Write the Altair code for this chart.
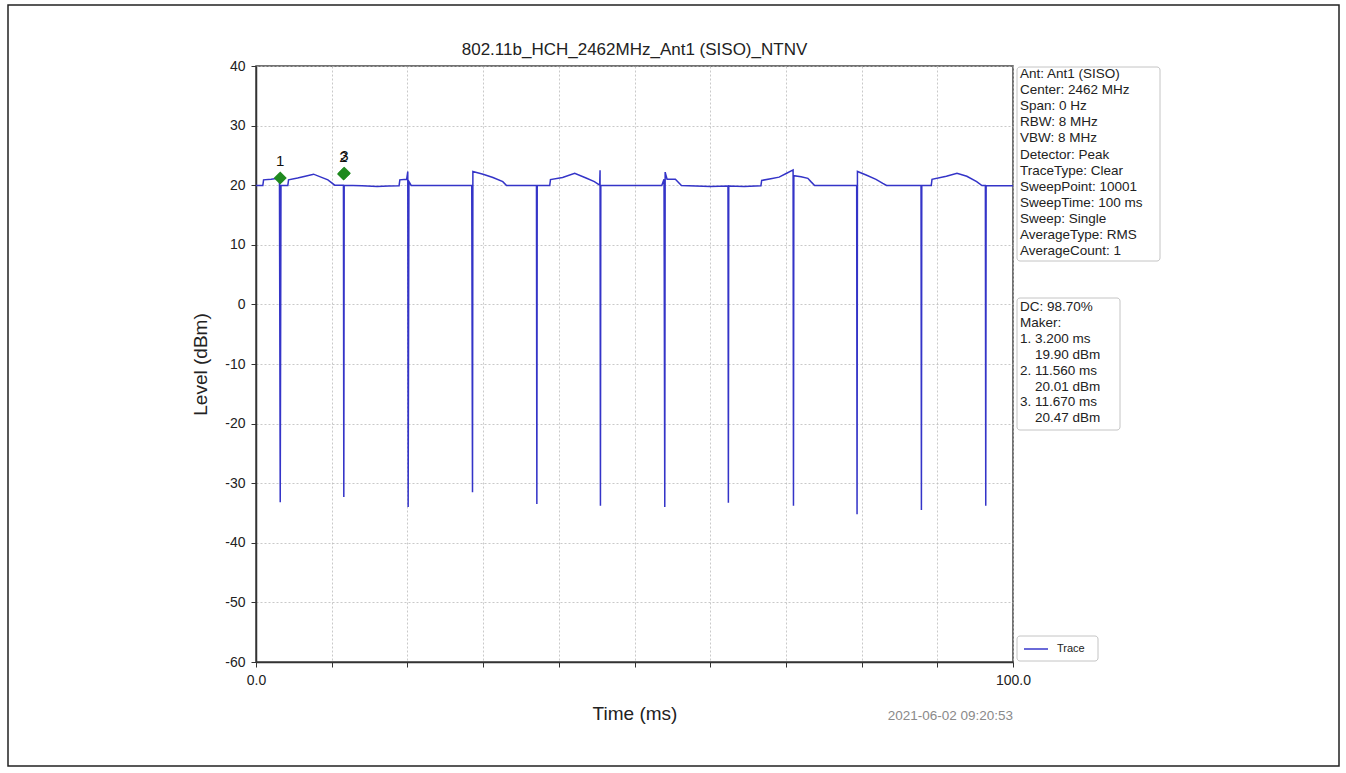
import altair as alt
import pandas as pd

# ---------------- data ----------------
chart_title = "802.11b_HCH_2462MHz_Ant1 (SISO)_NTNV"
x_title = "Time (ms)"
y_title = "Level (dBm)"
timestamp = "2021-06-02 09:20:53"

# trace breakpoints (time ms, level dBm)
trace_points = [
    (0.0, 19.95), (0.9, 19.95), (1.0, 20.9), (2.0, 21.0), (3.1, 21.2),
    (3.2, -33.2), (3.3, 19.95), (4.2, 19.95), (4.3, 20.9), (5.5, 21.2),
    (6.5, 21.5), (7.6, 21.85), (8.5, 21.4), (9.5, 20.9), (10.4, 20.0),
    (11.55, 20.0), (11.6, -32.3), (11.65, 20.0), (14.0, 19.9), (16.0, 19.8),
    (17.5, 19.85), (18.9, 19.9), (19.0, 20.9), (19.9, 21.0), (20.05, 22.3),
    (20.1, -34.0), (20.2, 20.6), (20.5, 19.95), (28.5, 19.95), (28.6, -31.5),
    (28.65, 22.3), (30.0, 21.85), (31.3, 21.3), (32.6, 20.6), (33.1, 19.95),
    (37.05, 19.95), (37.1, -33.5), (37.15, 19.95), (38.8, 19.95), (38.9, 20.95),
    (40.5, 21.3), (42.1, 22.0), (43.6, 21.2), (44.7, 20.6), (45.4, 20.0),
    (45.45, 22.5), (45.5, -33.8), (45.55, 19.95), (53.6, 19.95), (53.9, 21.0),
    (54.0, -34.0), (54.05, 22.2), (54.3, 21.0), (55.4, 21.0), (56.2, 19.95),
    (60.0, 19.8), (62.35, 19.85), (62.4, -33.3), (62.45, 19.85), (64.5, 19.8),
    (66.7, 19.9), (66.8, 20.8), (68.0, 21.1), (69.1, 21.35), (70.1, 22.0),
    (70.95, 22.57), (71.0, -33.8), (71.05, 21.6), (72.0, 21.4), (72.9, 21.15),
    (73.3, 20.6), (73.8, 19.95), (79.35, 19.95), (79.4, -35.2), (79.45, 22.3),
    (80.6, 21.7), (81.9, 20.98), (82.8, 20.3), (83.3, 19.95), (87.85, 19.95),
    (87.9, -34.5), (87.95, 19.95), (89.2, 19.95), (89.3, 20.98), (91.2, 21.5),
    (92.6, 22.0), (93.9, 21.5), (95.2, 20.6), (95.9, 19.95), (96.35, 19.95),
    (96.4, -33.8), (96.45, 19.95), (100.0, 19.9),
]

marker_ids = ["1", "2", "3"]
marker_time = [3.2, 11.56, 11.67]
marker_level = [21.2, 21.9, 22.0]

x_ticks = [0, 10, 20, 30, 40, 50, 60, 70, 80, 90, 100]
y_ticks = [-60, -50, -40, -30, -20, -10, 0, 10, 20, 30, 40]

info_lines = [
    "Ant: Ant1 (SISO)", "Center: 2462 MHz", "Span: 0 Hz", "RBW: 8 MHz",
    "VBW: 8 MHz", "Detector: Peak", "TraceType: Clear", "SweepPoint: 10001",
    "SweepTime: 100 ms", "Sweep: Single", "AverageType: RMS", "AverageCount: 1",
]
# (text, indented?)
dc_lines = [
    ("DC: 98.70%", False), ("Maker:", False),
    ("1. 3.200 ms", False), ("19.90 dBm", True),
    ("2. 11.560 ms", False), ("20.01 dBm", True),
    ("3. 11.670 ms", False), ("20.47 dBm", True),
]
legend_label = "Trace"

# ---------------- layout ----------------
W, H = 757, 596
PL, PT = 256, 66
FONT = "Liberation Sans"
TRACE_COLOR = "#3434c8"

trace_df = pd.DataFrame(
    [{"i": i, "t": t, "v": v} for i, (t, v) in enumerate(trace_points)]
)
marker_df = pd.DataFrame({"id": marker_ids, "t": marker_time, "v": marker_level})
one = alt.Data(values=[{"a": 1}])

xscale = alt.Scale(domain=[0, 100], nice=False, zero=False)
yscale = alt.Scale(domain=[-60, 40], nice=False, zero=False)

x_axis = alt.Axis(
    values=x_ticks,
    labelExpr="datum.value == 0 || datum.value == 100 ? format(datum.value, '.1f') : ''",
    labelFontSize=14, labelFont=FONT, labelColor="#222", labelPadding=6,
    labelOverlap=False, labelFlush=False,
    tickSize=5, tickColor="#333", tickWidth=1,
    domainColor="#333", domainWidth=1.5,
    grid=True, gridDash=[2, 2], gridColor="#bbbbbb", gridWidth=0.8,
    title=x_title, titleFont=FONT, titleFontSize=19, titleFontWeight="normal",
    titleColor="#222", titleX=W / 2, titleY=51, titleBaseline="middle",
    titleAlign="center",
)
y_axis = alt.Axis(
    values=y_ticks,
    labelExpr="'' + datum.value",
    labelFontSize=14, labelFont=FONT, labelColor="#222", labelPadding=6,
    labelOverlap=False, labelFlush=False,
    tickSize=5, tickColor="#333", tickWidth=1,
    domainColor="#333", domainWidth=1.5,
    grid=True, gridDash=[2, 2], gridColor="#bbbbbb", gridWidth=0.8,
    title=y_title, titleFont=FONT, titleFontSize=19, titleFontWeight="normal",
    titleColor="#222", titleX=-56, titleY=H / 2, titleAngle=270,
    titleBaseline="middle", titleAlign="center",
)

border = alt.Chart(one).mark_rect(fillOpacity=0, stroke="#222", strokeWidth=1.5).encode(
    x=alt.value(8 - PL), x2=alt.value(1339 - PL),
    y=alt.value(5 - PT), y2=alt.value(766 - PT),
)

trace = alt.Chart(trace_df).mark_line(color=TRACE_COLOR, strokeWidth=1.5).encode(
    x=alt.X("t:Q", scale=xscale, axis=x_axis),
    y=alt.Y("v:Q", scale=yscale, axis=y_axis),
    order="i:Q",
)

markers = alt.Chart(marker_df).mark_point(
    shape="diamond", filled=True, color="#1f8a1f", opacity=1, size=170
).encode(x=alt.X("t:Q", scale=xscale), y=alt.Y("v:Q", scale=yscale))

marker_labels = alt.Chart(marker_df).mark_text(
    dy=-17, fontSize=15, font=FONT, color="#111"
).encode(x=alt.X("t:Q", scale=xscale), y=alt.Y("v:Q", scale=yscale), text="id:N")

title_mark = alt.Chart(one).mark_text(
    text=chart_title, fontSize=17, font=FONT, color="#222",
    align="center", baseline="middle",
).encode(x=alt.value(W / 2), y=alt.value(50 - PT))


def box(x0, x1, y0, y1):
    return alt.Chart(one).mark_rect(
        fill="white", stroke="#c4c4c4", strokeWidth=1, cornerRadius=3
    ).encode(
        x=alt.value(x0 - PL), x2=alt.value(x1 - PL),
        y=alt.value(y0 - PT), y2=alt.value(y1 - PT),
    )


info_box = box(1017, 1160, 67, 261)
info_text = alt.Chart(one).mark_text(
    text=info_lines, fontSize=13.5, font=FONT, color="#222",
    align="left", baseline="middle", lineHeight=16.1,
).encode(x=alt.value(1020 - PL), y=alt.value(74 - PT))

dc_box = box(1017, 1120, 298, 430)
dc_texts = [
    alt.Chart(one).mark_text(
        text=txt, fontSize=13.5, font=FONT, color="#222",
        align="left", baseline="middle",
    ).encode(
        x=alt.value((1035 if ind else 1020) - PL),
        y=alt.value(307 - PT + k * 15.9),
    )
    for k, (txt, ind) in enumerate(dc_lines)
]

legend_box = box(1017, 1098, 636, 661)
legend_line = alt.Chart(one).mark_rule(color="#6a6ad8", strokeWidth=2).encode(
    x=alt.value(1024 - PL), x2=alt.value(1048 - PL), y=alt.value(649 - PT)
)
legend_text = alt.Chart(one).mark_text(
    text=legend_label, fontSize=11, font=FONT, color="#222",
    align="left", baseline="middle",
).encode(x=alt.value(1057 - PL), y=alt.value(649 - PT))

stamp = alt.Chart(one).mark_text(
    text=timestamp, fontSize=13.5, font=FONT, color="#8a8a8a",
    align="right", baseline="middle",
).encode(x=alt.value(1013 - PL), y=alt.value(716 - PT))

chart = alt.layer(
    border, trace, markers, marker_labels, title_mark,
    info_box, info_text, dc_box, *dc_texts,
    legend_box, legend_line, legend_text, stamp,
).properties(
    width=W, height=H,
    autosize=alt.AutoSizeParams(type="none"),
    padding={"left": PL, "top": PT, "right": 1346 - PL - W, "bottom": 773 - PT - H},
    background="white",
).configure_view(stroke="#444", strokeWidth=1.5)

chart.save("out.html", embed_options={"renderer": "svg", "actions": False})
